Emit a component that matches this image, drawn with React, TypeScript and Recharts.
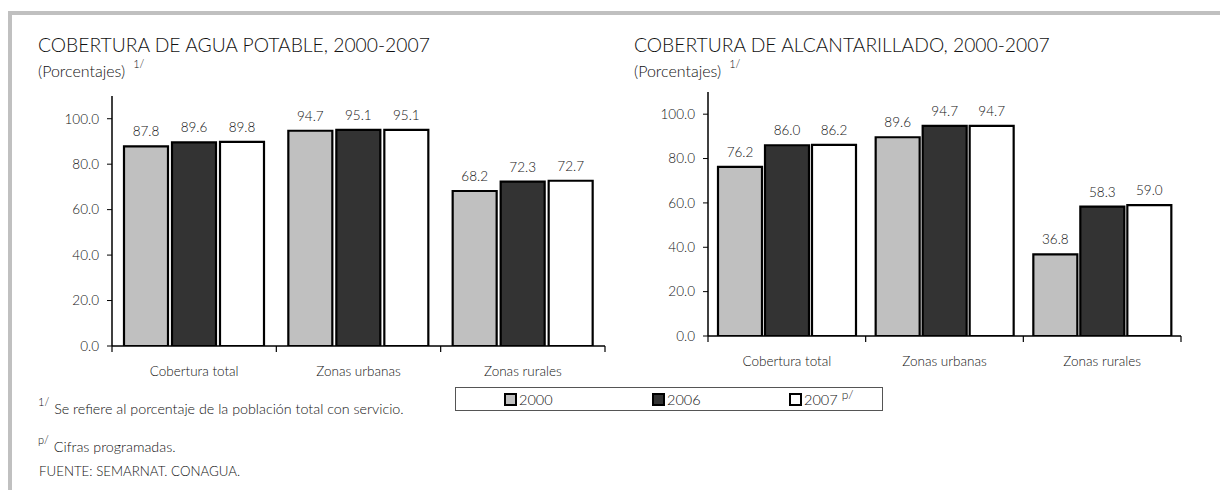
import React from 'react';
import { BarChart, Bar, XAxis, YAxis, LabelList } from 'recharts';

const categories = ['Cobertura total', 'Zonas urbanas', 'Zonas rurales'];
const seriesNames = ['2000', '2006', '2007'];
const seriesColors = ['#c0c0c0', '#333333', '#ffffff'];
const agua2000 = [87.8, 94.7, 68.2];
const agua2006 = [89.6, 95.1, 72.3];
const agua2007 = [89.8, 95.1, 72.7];
const alc2000 = [76.2, 89.6, 36.8];
const alc2006 = [86.0, 94.7, 58.3];
const alc2007 = [86.2, 94.7, 59.0];
const yTicks = [0, 20, 40, 60, 80, 100];
const yDomain = [0, 110];

const FONT = 'Lato, "Open Sans", sans-serif';
const W = 300;
const TXT = '#111';

const build = (a: number[], b: number[], c: number[]) =>
  categories.map((name, i) => ({ name, s2000: a[i], s2006: b[i], s2007: c[i] }));

const aguaData = build(agua2000, agua2006, agua2007);
const alcData = build(alc2000, alc2006, alc2007);
const keys = ['s2000', 's2006', 's2007'];

const makeTick = (n: number, fallbackHalf: number) => (props: any) => {
  const { x, y, payload, index } = props;
  const h = payload && typeof payload.offset === 'number' && payload.offset > 0 ? payload.offset : fallbackHalf;
  return (
    <g>
      <line x1={x - h} x2={x - h} y1={y} y2={y + 6} stroke="#000" strokeWidth={1.2} />
      {index === n - 1 && <line x1={x + h} x2={x + h} y1={y} y2={y + 6} stroke="#000" strokeWidth={1.2} />}
      <text x={x} y={y + 27} textAnchor="middle" dominantBaseline="middle" fill={TXT} fontSize={13.5} fontWeight={W} fontFamily={FONT}>
        {payload.value}
      </text>
    </g>
  );
};

const fmt = (v: any) => Number(v).toFixed(1);

type ChartProps = {
  data: any[];
  width: number;
  height: number;
  margin: { top: number; right: number; bottom: number; left: number };
  barSize: number;
  barGap: number;
  topStroke: string;
  rightStroke: string;
};

const CoverageChart = ({ data, width, height, margin, barSize, barGap, topStroke, rightStroke }: ChartProps) => {
  const plotW = width - margin.left - margin.right - 60;
  return (
    <BarChart width={width} height={height} data={data} margin={margin} barSize={barSize} barGap={barGap}>
      <XAxis
        dataKey="name"
        axisLine={{ stroke: '#000', strokeWidth: 1.5 }}
        tickLine={false}
        tickSize={0}
        tickMargin={0}
        height={30}
        interval={0}
        tick={makeTick(categories.length, plotW / categories.length / 2)}
      />
      <XAxis xAxisId="t" orientation="top" dataKey="name" height={0} tick={false} tickLine={false} axisLine={{ stroke: topStroke, strokeWidth: 1.5 }} />
      <YAxis
        domain={yDomain}
        ticks={yTicks}
        width={60}
        tickFormatter={fmt}
        axisLine={{ stroke: '#000', strokeWidth: 1.5 }}
        tickLine={{ stroke: '#000' }}
        tickSize={5}
        tickMargin={8}
        tick={{ fill: TXT, fontSize: 13.5, fontFamily: FONT, fontWeight: W }}
        allowDataOverflow
      />
      <YAxis yAxisId="r" orientation="right" domain={yDomain} width={0} tick={false} tickLine={false} axisLine={{ stroke: rightStroke, strokeWidth: 1.5 }} />
      {keys.map((k, i) => (
        <Bar key={k} dataKey={k} name={seriesNames[i]} fill={seriesColors[i]} stroke="#000" strokeWidth={2.2} isAnimationActive={false}>
          <LabelList dataKey={k} position="top" offset={10} formatter={fmt} fill={TXT} fontSize={13.5} fontWeight={W} fontFamily={FONT} />
        </Bar>
      ))}
    </BarChart>
  );
};

const Sup = ({ children }: { children: React.ReactNode }) => (
  <span style={{ fontSize: 11, position: 'relative', top: -9, marginLeft: 8 }}>{children}</span>
);

export default function App() {
  return (
    <div style={{ position: 'relative', width: 1220, height: 490, fontFamily: FONT, fontWeight: W, color: TXT, overflow: 'hidden', background: '#fff' }}>
      <style>{`body{margin:0;overflow:hidden;}`}</style>
      <div style={{ position: 'absolute', left: 8, top: 11, right: 0, bottom: 0, borderTop: '4px solid #c0c0c0', borderLeft: '4px solid #c0c0c0' }} />

      <div style={{ position: 'absolute', left: 38, top: 33, fontSize: 19.3, whiteSpace: 'nowrap' }}>
        COBERTURA DE AGUA POTABLE, 2000-2007
      </div>
      <div style={{ position: 'absolute', left: 38, top: 61, fontSize: 16, whiteSpace: 'nowrap' }}>
        (Porcentajes)<Sup>1/</Sup>
      </div>

      <div style={{ position: 'absolute', left: 634, top: 33, fontSize: 19.3, whiteSpace: 'nowrap' }}>
        COBERTURA DE ALCANTARILLADO, 2000-2007
      </div>
      <div style={{ position: 'absolute', left: 634, top: 61, fontSize: 16, whiteSpace: 'nowrap' }}>
        (Porcentajes)<Sup>1/</Sup>
      </div>

      <div style={{ position: 'absolute', left: 0, top: 0 }}>
        <CoverageChart
          data={aguaData}
          width={620}
          height={400}
          margin={{ top: 96, right: 15, bottom: 24, left: 52 }}
          barSize={44}
          barGap={4}
          topStroke="#777"
          rightStroke="#000"
        />
      </div>
      <div style={{ position: 'absolute', left: 600, top: 0 }}>
        <CoverageChart
          data={alcData}
          width={600}
          height={400}
          margin={{ top: 92, right: 19, bottom: 34, left: 48 }}
          barSize={44}
          barGap={3}
          topStroke="#222"
          rightStroke="#444"
        />
      </div>

      <div style={{ position: 'absolute', left: 455, top: 387, width: 426, height: 22, border: '1px solid #555', fontSize: 14.5 }}>
        {seriesNames.map((s, i) => (
          <div key={s} style={{ position: 'absolute', left: [48, 196, 333][i], top: 3, display: 'flex', alignItems: 'center', whiteSpace: 'nowrap' }}>
            <span style={{ display: 'inline-block', width: 9, height: 9, border: '2px solid #000', background: seriesColors[i], marginRight: 2 }} />
            <span>{s}</span>
            {i === 2 && <span style={{ fontSize: 12, position: 'relative', top: -5, marginLeft: 4 }}>p/</span>}
          </div>
        ))}
      </div>

      <div style={{ position: 'absolute', left: 38, top: 400, fontSize: 14.3, whiteSpace: 'nowrap' }}>
        <span style={{ fontSize: 11, position: 'relative', top: -8, marginRight: 5 }}>1/</span>Se refiere al porcentaje de la población total con servicio.
      </div>
      <div style={{ position: 'absolute', left: 38, top: 438, fontSize: 14.3, whiteSpace: 'nowrap' }}>
        <span style={{ fontSize: 11, position: 'relative', top: -8, marginRight: 5 }}>p/</span>Cifras programadas.
      </div>
      <div style={{ position: 'absolute', left: 39, top: 463, fontSize: 13.3, whiteSpace: 'nowrap' }}>
        FUENTE: SEMARNAT. CONAGUA.
      </div>
    </div>
  );
}
